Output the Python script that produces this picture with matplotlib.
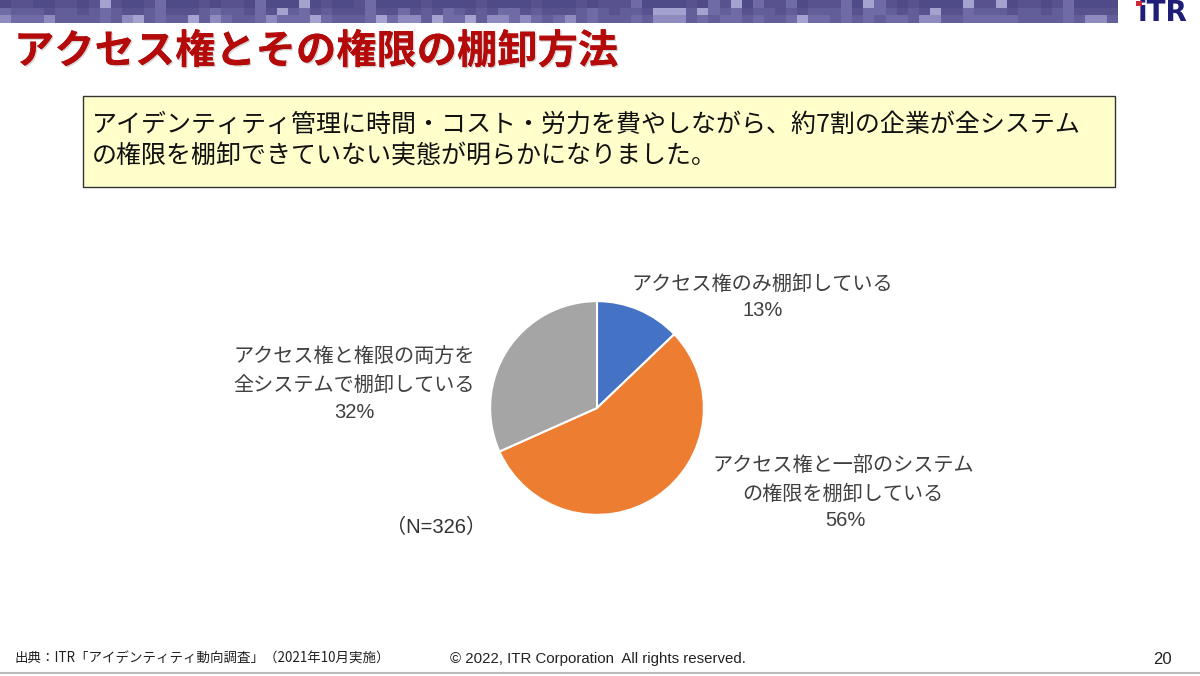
import matplotlib
matplotlib.use("Agg")
import matplotlib.pyplot as plt
import matplotlib.patches as mpatches
import matplotlib.patheffects as pe

# ---- data ----
categories = ["アクセス権のみ棚卸している",
              "アクセス権と一部のシステム\nの権限を棚卸している",
              "アクセス権と権限の両方を\n全システムで棚卸している"]
values = [13, 56, 32]
pct_labels = ["13%", "56%", "32%"]
colors = ["#4472C4", "#ED7D31", "#A5A5A5"]
sample_note = "（N=326）"
title = "アクセス権とその権限の棚卸方法"
summary = ["アイデンティティ管理に時間・コスト・労力を費やしながら、約7割の企業が全システム",
           "の権限を棚卸できていない実態が明らかになりました。"]
source = "出典：ITR「アイデンティティ動向調査」（2021年10月実施）"
copyright_txt = "© 2022, ITR Corporation  All rights reserved."
page_no = "20"

JP = ["Noto Sans CJK JP", "DejaVu Sans"]
NUM = ["Liberation Sans", "Noto Sans CJK JP", "DejaVu Sans"]
plt.rcParams['font.family'] = JP

W, H = 1200, 676
fig = plt.figure(figsize=(W / 100, H / 100), dpi=100)
fig.patch.set_facecolor("white")

bg = fig.add_axes([0, 0, 1, 1])
bg.set_xlim(0, W)
bg.set_ylim(H, 0)
bg.axis("off")

# banner pattern (decorative)
shades = ["#4F4A88", "#58538F", "#625E9A", "#6F6BA6", "#8E8BBE", "#A4A2CE"]
ncol = 101
bw = 1118 / ncol
rh = 23 / 3
for r in range(3):
    for c in range(ncol):
        k = (c * 37 + r * 13 + (c * c * 3 + r * 7) % 29) % 23
        if r == 0:
            idx = 0 if k < 12 else (1 if k < 19 else (3 if k < 22 else 5))
        elif r == 1:
            idx = 1 if k < 9 else (2 if k < 17 else (3 if k < 21 else 5))
        else:
            idx = 2 if k < 9 else (3 if k < 17 else (4 if k < 21 else 5))
        bg.add_patch(mpatches.Rectangle((c * bw, r * rh), bw + 0.3, rh + 0.2,
                                        facecolor=shades[idx], edgecolor="none", zorder=1))

# ITR logo
bg.text(1163, 13, "iTR", fontsize=20, fontweight="bold", color="#1E1E78",
        family=["DejaVu Sans"], ha="center", va="center", zorder=3)
bg.add_patch(mpatches.Rectangle((1136, 1), 6, 5, facecolor="#D0283A", edgecolor="none", zorder=4))

# title
bg.text(14, 52, title, fontsize=29, fontweight="bold", color="#B40A0A",
        ha="left", va="center", zorder=3,
        path_effects=[pe.withSimplePatchShadow(offset=(1, -1), shadow_rgbFace="#888888", alpha=0.35),
                      pe.Normal()])

# summary box
bg.add_patch(mpatches.Rectangle((83, 96), 1032, 91, facecolor="#FFFFCC",
                                edgecolor="#333333", linewidth=1.0, zorder=2))
bg.text(92, 125, summary[0], fontsize=18, color="#111111", ha="left", va="center", zorder=3)
bg.text(92, 156, summary[1], fontsize=18, color="#111111", ha="left", va="center", zorder=3)

# pie
cx, cy, rad = 597, 408, 109
pax = fig.add_axes([(cx - rad) / W, (H - cy - rad) / H, 2 * rad / W, 2 * rad / H])
pax.pie(values, colors=colors, startangle=90, counterclock=False,
        wedgeprops=dict(edgecolor="white", linewidth=1.5))
pax.set_xlim(-1.02, 1.02)
pax.set_ylim(-1.02, 1.02)
pax.set_aspect("equal")
pax.axis("off")

lab_col = "#404040"
lab_fs = 14.5
bg.text(762, 284, categories[0], fontsize=lab_fs, color=lab_col, ha="center", va="center")
bg.text(763, 311, pct_labels[0], fontsize=lab_fs, color=lab_col, ha="center", va="center", family=NUM)
bg.text(843, 480, categories[1], fontsize=lab_fs, color=lab_col, ha="center", va="center",
        linespacing=1.45)
bg.text(845, 521, pct_labels[1], fontsize=lab_fs, color=lab_col, ha="center", va="center", family=NUM)
bg.text(354, 371, categories[2], fontsize=lab_fs, color=lab_col, ha="center", va="center",
        linespacing=1.45)
bg.text(354, 412, pct_labels[2], fontsize=lab_fs, color=lab_col, ha="center", va="center", family=NUM)
bg.text(436, 527, sample_note, fontsize=lab_fs, color="#333333", ha="center", va="center", family=NUM)

# footer
bg.text(15, 659, source, fontsize=9.7, color="#222222", ha="left", va="center")
bg.text(450, 659, copyright_txt, fontsize=10.8, color="#222222", ha="left", va="center",
        family=["Liberation Sans", "DejaVu Sans"])
bg.text(1172, 660, page_no, fontsize=12, color="#222222", ha="right", va="center",
        family=["Liberation Sans", "DejaVu Sans"])
bg.plot([0, W], [673, 673], color="#BBBBBB", linewidth=1.5)

fig.savefig("out.png", dpi=100, facecolor="white")
